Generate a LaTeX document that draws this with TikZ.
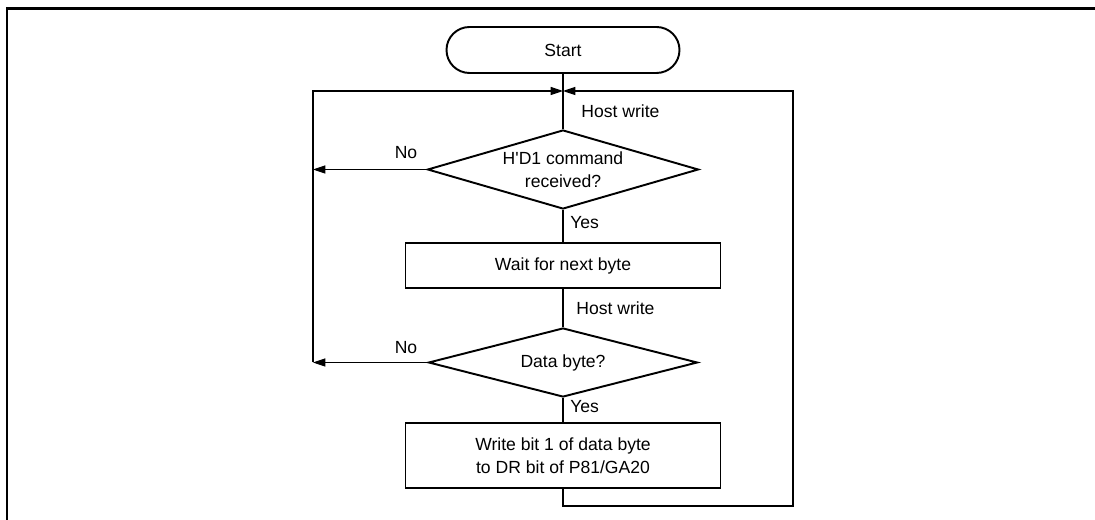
\documentclass[tikz,border=0pt]{standalone}
\usepackage{fontspec}
\setmainfont{Liberation Sans}
\usetikzlibrary{arrows.meta,shapes.geometric}

\begin{document}
\begin{tikzpicture}[
  line join=miter,
  every node/.style={font=\fontsize{10}{13}\selectfont, text=black},
  % outlines of the flowchart symbols
  term/.style={draw, line width=1.1pt, rectangle, rounded corners=0.46cm,
               minimum width=4.66cm, minimum height=0.92cm, inner sep=0pt},
  proc/.style={draw, line width=1.1pt, rectangle, align=center,
               minimum width=6.3cm, inner sep=0pt},
  test/.style={draw, line width=1.1pt, diamond, aspect=3.4, align=center, inner sep=0pt},
  flow/.style={draw, line width=0.6pt},
  tip/.style={-{Triangle[length=7pt,width=4.6pt]}},
  lbl/.style={anchor=west, inner sep=0pt},
  frame/.style={draw, line width=1.2pt},
]
\def\Cx{11.26}   % common axis of the chart
\def\Lx{6.26}    % left return line
\def\Rx{15.86}   % right return line

\useasboundingbox (0,0) rectangle (21.9,-10.4);

% --- Figure frame (top and left edge only)
\draw[frame] (0.14,-10.6) -- (0.14,-0.17) -- (22.1,-0.17);

% --- Symbols
\node[term] (start) at (\Cx,-1.00) {Start};
\node[test, minimum width=5.42cm, minimum height=1.58cm] (cmd) at (\Cx,-3.39)
  {H\textquotesingle D1 command\\received?};
\node[proc, minimum height=0.90cm] (wait) at (\Cx,-5.31) {Wait for next byte};
\node[test, minimum width=5.38cm, minimum height=1.38cm] (data) at (\Cx,-7.25) {Data byte?};
\node[proc, minimum height=1.30cm] (write) at (\Cx,-9.11)
  {Write bit 1 of data byte\\to DR bit of P81/GA20};

% --- Corner points of the return lines
\coordinate (join) at (\Cx,-1.82);
\coordinate (noA)  at (\Lx,-3.39);
\coordinate (noB)  at (\Lx,-7.25);
\coordinate (back) at (\Cx,-10.12);
\coordinate (rgt)  at (\Rx,-10.12);

% --- Main path
\draw[flow] (start) -- (cmd);
\draw[flow] (cmd) -- (wait);
\draw[flow] (wait) -- (data);
\draw[flow] (data) -- (write);

% --- Branches back to the top
\draw[flow, tip] (cmd) -- (noA);
\draw[flow, tip] (data) -- (noB);
\draw[flow, tip] (noB) |- (join);
\draw[flow, tip] (write) -- (back) -- (rgt) |- (join);

% --- Labels on the lines
\node[lbl] (hw1)  at (11.62,-2.22) {Host write};
\node[lbl] (hw2)  at (11.52,-6.16) {Host write};
\node[lbl] (yes1) at (11.40,-4.46) {Yes};
\node[lbl] (yes2) at (11.40,-8.14) {Yes};
\node (no1) at (8.12,-3.06) {No};
\node (no2) at (8.12,-6.96) {No};
\end{tikzpicture}
\end{document}
